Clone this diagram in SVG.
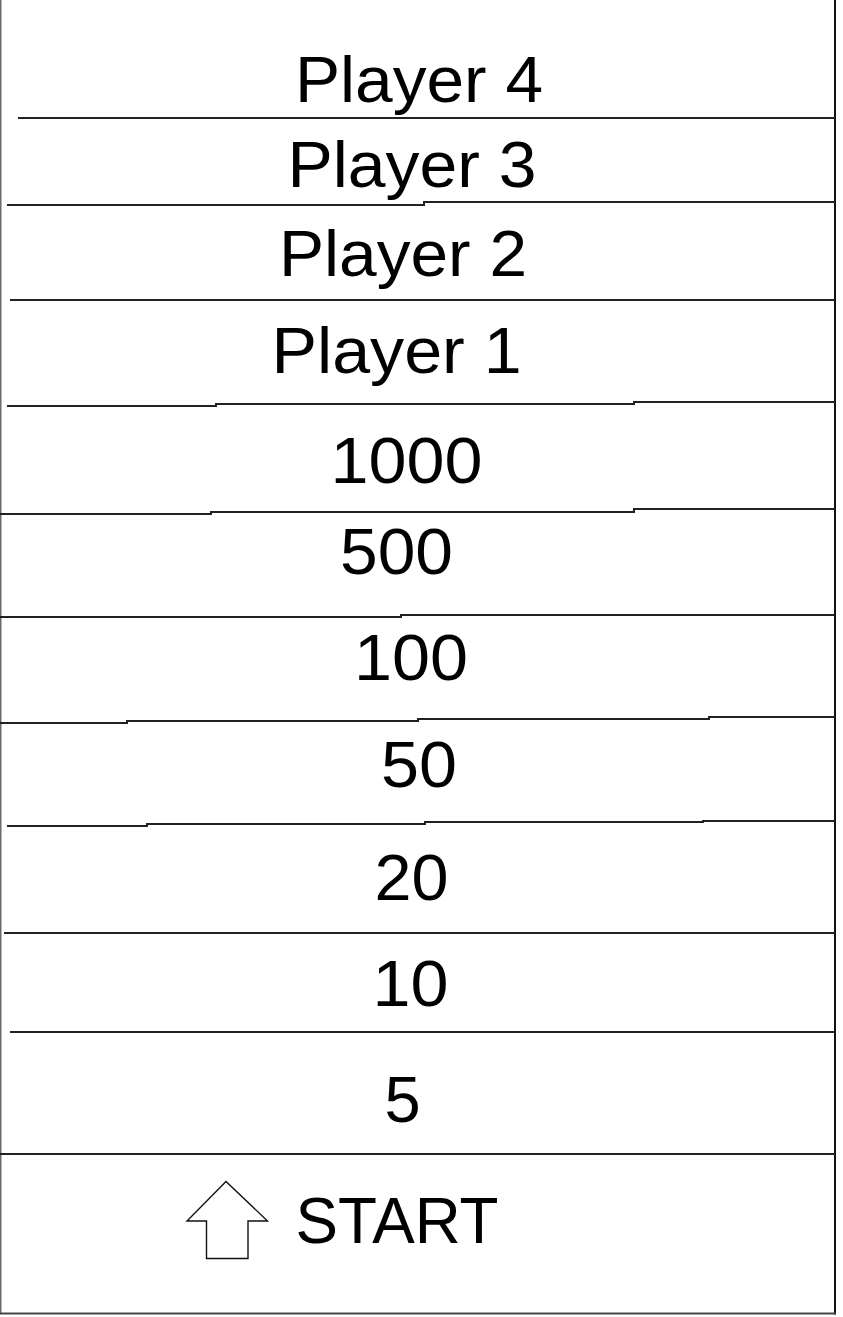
<svg xmlns="http://www.w3.org/2000/svg" width="843" height="1317" viewBox="0 0 843 1317">
<style>
.t{font-family:"Liberation Sans",Arial,sans-serif;font-size:65px;fill:#000;text-anchor:middle}
.ln{fill:none;stroke:#222;stroke-width:2}
</style>
<rect width="843" height="1317" fill="#fff"/>
<g id="frame" fill="none">
<line x1="0.75" y1="0" x2="0.75" y2="1314" stroke="#6a6a6a" stroke-width="1.5"/>
<line x1="835" y1="0" x2="835" y2="1314.5" stroke="#111" stroke-width="2"/>
<line x1="0" y1="1313.5" x2="836" y2="1313.5" stroke="#444" stroke-width="2"/>
</g>
<g id="dividers" class="ln">
<path d="M18 118H835"/>
<path d="M7 205H424V202H835"/>
<path d="M10 300H835"/>
<path d="M7 406H216V404H634V402H835"/>
<path d="M0 514H211V512H634V509H835"/>
<path d="M0 617H401V615H835"/>
<path d="M0 723H127V721H418V719H709V717H835"/>
<path d="M7 826H147V824H425V822H703V821H835"/>
<path d="M4 933H835"/>
<path d="M10 1032H835"/>
<path d="M0 1154H835"/>
</g>
<g id="player4"><text class="t" x="419" y="101.7" textLength="248" lengthAdjust="spacingAndGlyphs">Player 4</text></g>
<g id="player3"><text class="t" x="412" y="186.7" textLength="249" lengthAdjust="spacingAndGlyphs">Player 3</text></g>
<g id="player2"><text class="t" x="403" y="276" textLength="248" lengthAdjust="spacingAndGlyphs">Player 2</text></g>
<g id="player1"><text class="t" x="396.6" y="373.3" textLength="250" lengthAdjust="spacingAndGlyphs">Player 1</text></g>
<g id="v1000"><text class="t" x="406.5" y="483.3" textLength="152" lengthAdjust="spacingAndGlyphs">1000</text></g>
<g id="v500"><text class="t" x="396.5" y="574" textLength="113" lengthAdjust="spacingAndGlyphs">500</text></g>
<g id="v100"><text class="t" x="411" y="680" textLength="114" lengthAdjust="spacingAndGlyphs">100</text></g>
<g id="v50"><text class="t" x="419" y="787.3" textLength="76" lengthAdjust="spacingAndGlyphs">50</text></g>
<g id="v20"><text class="t" x="411.5" y="900" textLength="74" lengthAdjust="spacingAndGlyphs">20</text></g>
<g id="v10"><text class="t" x="410.5" y="1006" textLength="76" lengthAdjust="spacingAndGlyphs">10</text></g>
<g id="v5"><text class="t" x="402.5" y="1121.7">5</text></g>
<g id="start">
<polygon points="226,1181.5 187,1221 206.5,1221 206.5,1258.5 248,1258.5 248,1221 267.5,1221" fill="#fff" stroke="#111" stroke-width="1.4" stroke-linejoin="miter"/>
<text class="t" x="397" y="1242.5" textLength="203" lengthAdjust="spacingAndGlyphs">START</text>
</g>
</svg>
